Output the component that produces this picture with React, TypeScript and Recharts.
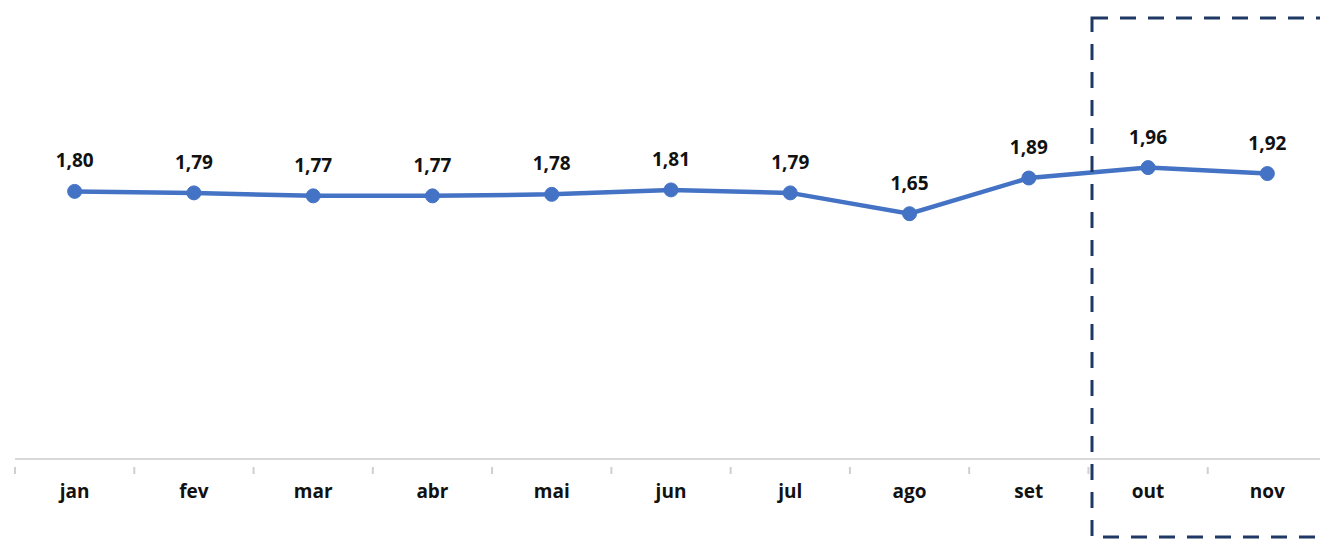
import { LineChart, Line, XAxis, YAxis, LabelList } from "recharts"

// meses e valores
const months = ["jan", "fev", "mar", "abr", "mai", "jun", "jul", "ago", "set", "out", "nov"]
const values = [1.8, 1.79, 1.77, 1.77, 1.78, 1.81, 1.79, 1.65, 1.89, 1.96, 1.92]

const data = months.map((mes, i) => ({ mes, valor: values[i] }))

const CHART_W = 1340
const CHART_H = 539
const MARGIN = { top: 13, right: 13, left: 15, bottom: 40 }
const STEP = (CHART_W - MARGIN.left - MARGIN.right) / months.length
const FONT = "'Open Sans', 'Noto Sans', sans-serif"

const MonthTick = (props: any) => {
  const { x, y, payload, index } = props
  return (
    <g>
      <line x1={x - STEP / 2} y1={y} x2={x - STEP / 2} y2={y + 7} stroke="#D0D0D0" strokeWidth={2} />
      {index === months.length - 1 && (
        <line x1={x + STEP / 2} y1={y} x2={x + STEP / 2} y2={y + 7} stroke="#D0D0D0" strokeWidth={2} />
      )}
      <text x={x} y={y + 31} textAnchor="middle" fontFamily={FONT} fontWeight={700} fontSize={19} fill="#111">
        {payload.value}
      </text>
    </g>
  )
}

export default function App() {
  return (
    <div style={{ position: "absolute", left: 0, top: 0, width: 1320, height: 539, overflow: "hidden", background: "#fff" }}>
      <LineChart width={CHART_W} height={CHART_H} data={data} margin={MARGIN}>
        <XAxis
          dataKey="mes"
          height={40}
          padding={{ left: STEP / 2, right: STEP / 2 }}
          axisLine={{ stroke: "#D9D9D9", strokeWidth: 2 }}
          tickLine={false}
          tick={<MonthTick />}
          interval={0}
        />
        <YAxis hide domain={[0, 3]} />
        <Line
          type="linear"
          dataKey="valor"
          stroke="#4472C4"
          strokeWidth={4.5}
          dot={{ r: 7, fill: "#4472C4", stroke: "#4472C4", strokeWidth: 1 }}
          isAnimationActive={false}
        >
          <LabelList
            dataKey="valor"
            position="top"
            offset={24}
            formatter={(v: any) => Number(v).toFixed(2).replace(".", ",")}
            style={{ fontFamily: FONT, fontWeight: 700, fontSize: 19, fill: "#111" }}
          />
        </Line>
      </LineChart>
      <svg width={1320} height={539} style={{ position: "absolute", left: 0, top: 0, pointerEvents: "none" }}>
        <rect x={1092} y={18} width={300} height={519} fill="none" stroke="#203864" strokeWidth={3} strokeDasharray="16 12" />
      </svg>
    </div>
  )
}
